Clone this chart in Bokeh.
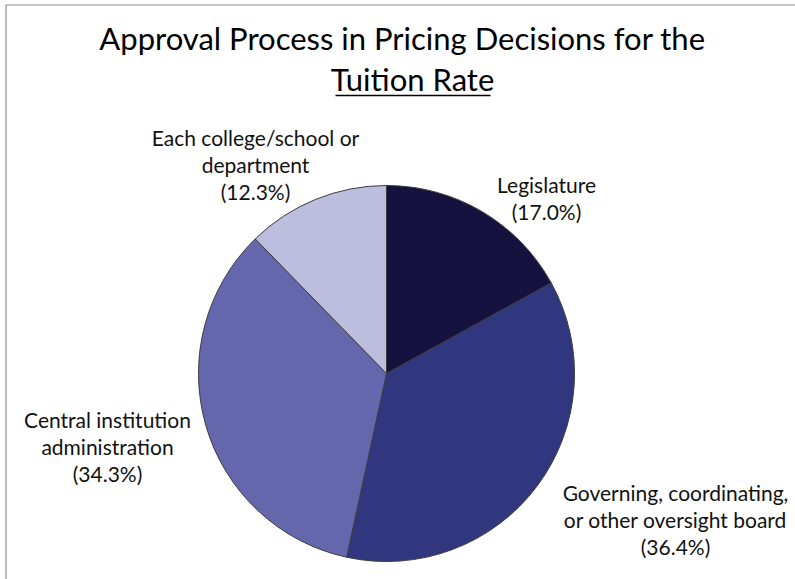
import numpy as np
from bokeh.plotting import figure
from bokeh.models import ColumnDataSource
from bokeh.core.properties import value
from bokeh.embed import file_html
from bokeh.resources import INLINE

# ---- data ----
categories = ["Legislature",
              "Governing, coordinating, or other oversight board",
              "Central institution administration",
              "Each college/school or department"]
shares = [17.0, 36.4, 34.3, 12.3]
label_lines = [["Legislature", "(17.0%)"],
               ["Governing, coordinating,", "or other oversight board", "(36.4%)"],
               ["Central institution", "administration", "(34.3%)"],
               ["Each college/school or", "department", "(12.3%)"]]
colors = ["#15123f", "#30377e", "#6567ad", "#bdbddd"]
title_line1 = "Approval Process in Pricing Decisions for the"
title_line2 = "Tuition Rate"

# ---- layout (pixel-like coordinates, y up) ----
W, H = 795, 579
FONT = "Lato"
def Y(ref_y):
    return H - ref_y
def X(ref_x):
    return ref_x

cx, cy, R = X(386), Y(373), 188
label_centers = [(X(546), Y(184)), (X(675), Y(492)), (X(107), Y(419)), (X(255), Y(137))]
line_gap = 27

p = figure(width=W, height=H, x_range=(0, W), y_range=(0, H),
           output_backend="svg", toolbar_location=None, min_border=0)
p.axis.visible = False
p.grid.visible = False
p.outline_line_color = None
p.background_fill_color = "white"
p.border_fill_color = "white"

# frame (left and top edges visible)
p.line(x=[X(5.5), X(5.5), W], y=[0, Y(4.5), Y(4.5)], line_color="#8c8c8c", line_width=1.2)

# wedges from data
frac = np.array(shares) / sum(shares)
cum = np.concatenate([[0], np.cumsum(frac)])
start = np.pi / 2 - cum[:-1] * 2 * np.pi
end = np.pi / 2 - cum[1:] * 2 * np.pi
src = ColumnDataSource(dict(start=start, end=end, color=colors, cat=categories))
p.wedge(x=cx, y=cy, radius=R, radius_units="screen", start_angle="start", end_angle="end",
        direction="clock", fill_color="color", line_color="#3c3c3c", line_width=1, source=src)

# labels
tx, ty, tt = [], [], []
for (lx, ly), lines in zip(label_centers, label_lines):
    for i, t in enumerate(lines):
        tx.append(lx); ty.append(ly - i * line_gap); tt.append(t)
p.text(x=tx, y=ty, text=tt, text_align="center", text_baseline="middle",
       text_font=value(FONT), text_font_size="21px", text_color="#111111")

# title
p.text(x=[X(402)], y=[Y(37)], text=[title_line1], text_align="center", text_baseline="middle",
       text_font=value(FONT), text_font_size="31px", text_color="#000000")
p.text(x=[X(412)], y=[Y(78)], text=[title_line2], text_align="center", text_baseline="middle",
       text_font=value(FONT), text_font_size="31px", text_color="#000000")
p.line(x=[X(335), X(490)], y=[Y(95), Y(95)], line_color="#000000", line_width=1.5)

open("out.html", "w").write(file_html(p, INLINE))
